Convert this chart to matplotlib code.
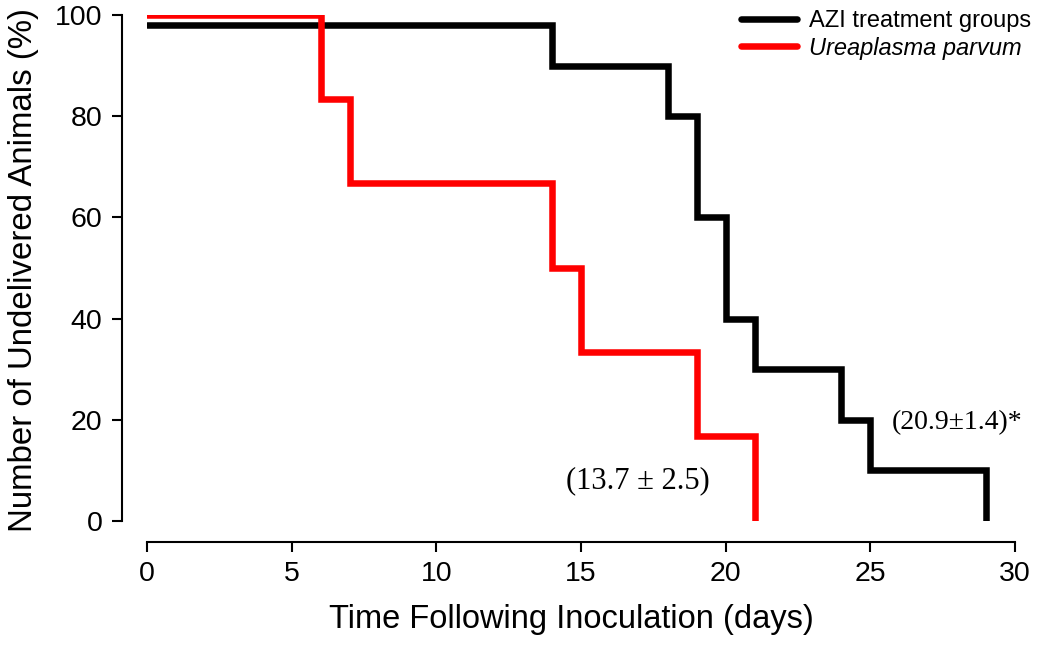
import numpy as np
import matplotlib.pyplot as plt

# Kaplan-Meier style step data (days, % undelivered)
azi_days = [0, 14, 18, 19, 20, 21, 24, 25, 29, 29]
azi_pct = [98, 90, 80, 60, 40, 30, 20, 10, 10, 0]

up_days = [0, 6, 7, 14, 15, 19, 21, 21]
up_pct = [100, 83.3, 66.7, 50, 33.3, 16.7, 16.7, 0]

azi_label = "AZI treatment groups"
up_label = "Ureaplasma parvum"
azi_note = "(20.9\u00b11.4)*"
up_note = "(13.7 \u00b1 2.5)"

plt.rcParams['font.family'] = ['Liberation Sans', 'DejaVu Sans']

fig = plt.figure(figsize=(10.5, 6.51), dpi=100)
ax = fig.add_axes([0.14, 0.1997, 0.8267, 0.7773])

ax.step(azi_days, azi_pct, where='post', color='black', lw=4.7,
        solid_capstyle='round', solid_joinstyle='miter', label=azi_label)
ax.step(up_days, up_pct, where='post', color='#ff0000', lw=4.7,
        solid_capstyle='round', solid_joinstyle='miter', label=up_label)

ax.set_xlim(0, 30)
ax.set_ylim(0, 100)
ax.set_xticks(range(0, 31, 5))
ax.set_yticks(range(0, 101, 20))

ax.spines['top'].set_visible(False)
ax.spines['right'].set_visible(False)
ax.spines['left'].set_position(('outward', 18))
ax.spines['bottom'].set_position(('outward', 15))
for s in ('left', 'bottom'):
    ax.spines[s].set_linewidth(1.5)
ax.tick_params(direction='out', length=7, width=1.5, labelsize=20.5, pad=7)

ax.set_xlabel("Time Following Inoculation (days)", fontsize=23.5)
ax.set_ylabel("Number of Undelivered Animals (%)", fontsize=23.8)
ax.xaxis.set_label_coords(0.4885, -0.164)
ax.yaxis.set_label_coords(-0.124, 0.495)

ax.text(28.0, 19.5, azi_note, family='Liberation Serif', fontsize=20,
        ha='center', va='center')
ax.text(16.95, 8.0, up_note, family='Liberation Serif', fontsize=22,
        ha='center', va='center')

leg = ax.legend(loc='upper right', bbox_to_anchor=(1.043, 1.052), frameon=False,
                fontsize=17, handlelength=2.4, handletextpad=0.5,
                labelspacing=0.2)
leg.get_texts()[1].set_style('italic')

fig.savefig('out.png', dpi=100)
